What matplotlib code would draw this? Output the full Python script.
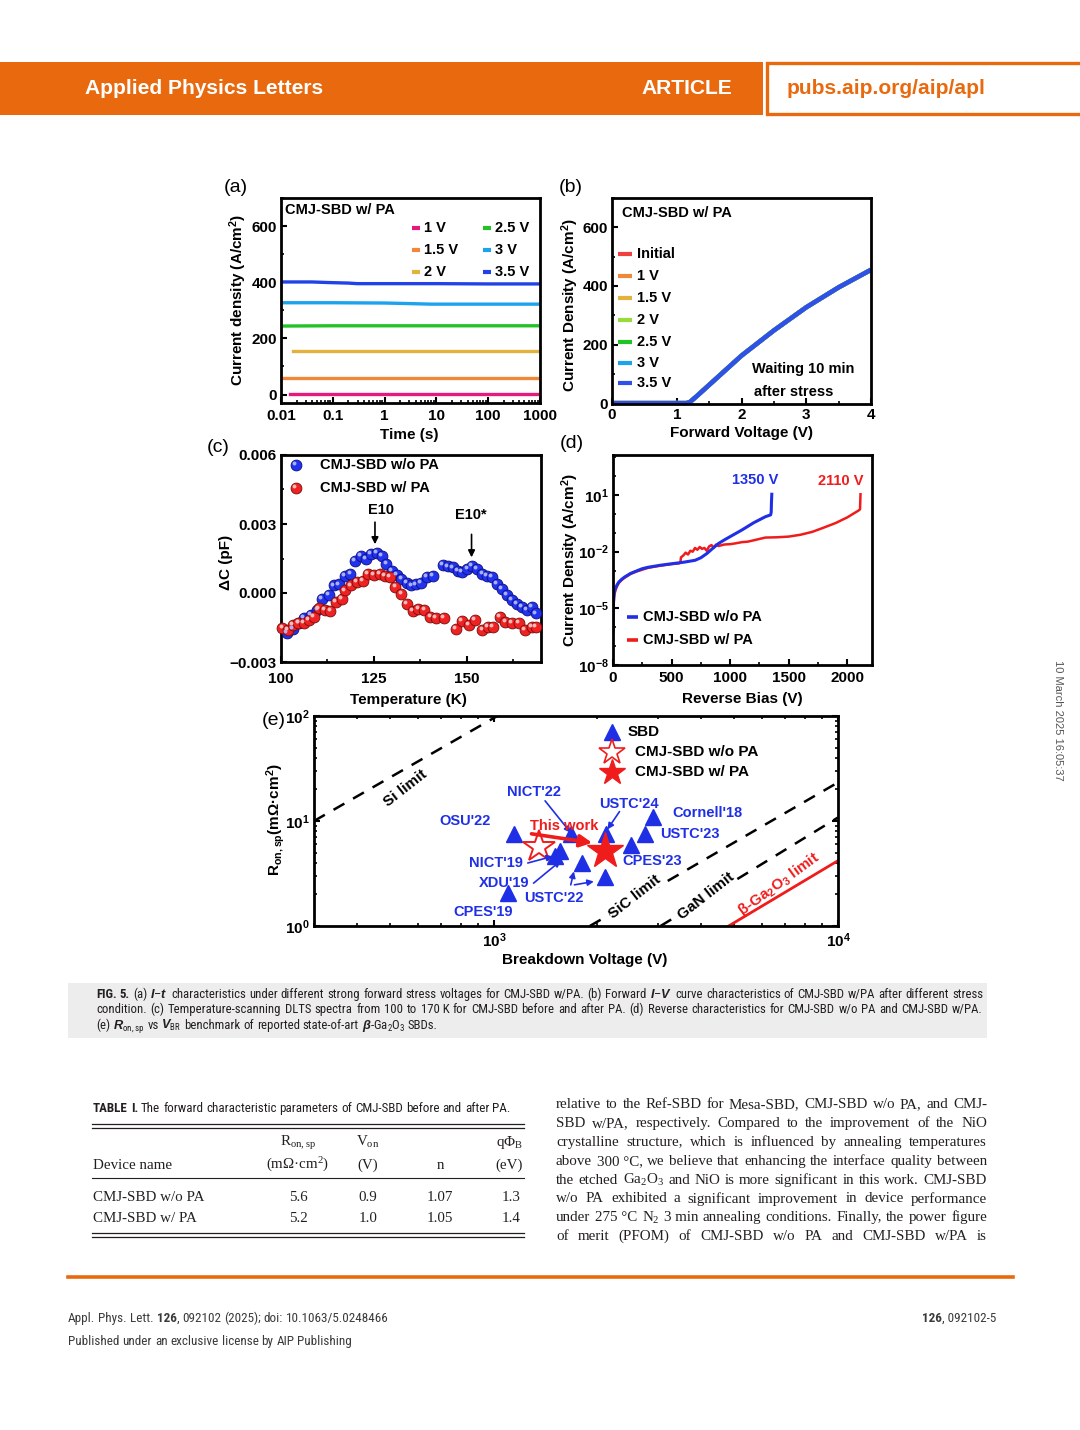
import numpy as np
import matplotlib
matplotlib.use('Agg')
import matplotlib.pyplot as plt
from matplotlib.patches import Rectangle
from matplotlib import font_manager
import matplotlib.transforms as mtransforms
from matplotlib.ticker import (FixedLocator, FixedFormatter, MultipleLocator,
                               NullFormatter, FuncFormatter, LogLocator)

# ------------------------------------------------------------------ data
# (a) I-t under forward stress, CMJ-SBD w/ PA
stress_names = ['1 V', '1.5 V', '2 V', '2.5 V', '3 V', '3.5 V']
t_1V = [0.015, 0.1, 1, 10, 100, 1000]
J_1V = [1, 1, 1, 1, 1, 1]
t_1p5V = [0.01, 0.1, 1, 10, 100, 1000]
J_1p5V = [59, 59, 59, 59, 59, 59]
t_2V = [0.017, 0.1, 1, 10, 100, 1000]
J_2V = [154, 154, 154, 154, 154, 154]
t_2p5V = [0.01, 0.1, 1, 10, 100, 1000]
J_2p5V = [244, 245, 245, 245, 245, 245]
t_3V = [0.01, 0.1, 1, 3, 8, 15, 100, 1000]
J_3V = [327, 327, 326, 324, 322, 322, 322, 322]
t_3p5V = [0.01, 0.04, 0.08, 0.2, 0.3, 1, 10, 100, 1000]
J_3p5V = [401, 401, 399, 397, 395, 395, 395, 394, 394]
a_xticks = [0.01, 0.1, 1, 10, 100, 1000]
a_xticklabels = ['0.01', '0.1', '1', '10', '100', '1000']

# (b) forward I-V after stress
fwd_names = ['Initial', '1 V', '1.5 V', '2 V', '2.5 V', '3 V', '3.5 V']
V_fwd = [0, 0.5, 1.0, 1.15, 1.2, 1.3, 1.5, 1.75, 2.0, 2.5, 3.0, 3.5, 4.0]
J_fwd = [0, 0, 0, 0, 3, 22, 62, 112, 162, 248, 327, 395, 455]

# (c) DLTS spectra
T_wo = [101.5, 103.1, 104.9, 106.2, 108.0, 109.8, 111.1, 112.9, 114.2, 115.5, 117.1, 118.7,
        120.0, 121.5, 122.9, 124.2, 125.8, 127.1, 128.4, 129.8, 131.1, 132.4, 133.8, 135.1,
        136.4, 137.7, 139.3, 140.9, 143.5, 144.9, 146.2, 147.7, 148.8, 150.2, 151.5, 152.8,
        154.2, 155.5, 156.8, 158.2, 159.5, 160.8, 162.2, 163.5, 164.8, 166.2, 167.5, 168.6]
C_wo = [-0.00174, -0.00156, -0.00131, -0.00110, -0.00096, -0.00074, -0.00024, -0.00010,
        0.00033, 0.00037, 0.00076, 0.00083, 0.00140, 0.00160, 0.00147, 0.00169, 0.00176,
        0.00160, 0.00126, 0.00097, 0.00079, 0.00061, 0.00044, 0.00033, 0.00037, 0.00044,
        0.00069, 0.00076, 0.00121, 0.00116, 0.00111, 0.00097, 0.00090, 0.00104, 0.00119,
        0.00104, 0.00083, 0.00076, 0.00069, 0.00040, 0.00019, -0.00010, -0.00031, -0.00046,
        -0.00060, -0.00074, -0.00060, -0.00089]
T_w = [100.4, 101.8, 103.1, 104.7, 106.2, 107.5, 108.9, 110.2, 111.8, 113.3, 114.7, 116.3,
       117.3, 118.9, 120.4, 122.0, 123.5, 125.0, 126.6, 128.0, 129.3, 130.8, 132.4, 134.0,
       135.5, 137.0, 138.6, 140.2, 141.7, 143.9, 147.0, 148.8, 150.6, 152.2, 154.2, 155.7,
       157.1, 158.9, 160.4, 162.2, 164.0, 165.7, 167.5, 168.6]
C_w = [-0.00153, -0.00160, -0.00139, -0.00131, -0.00131, -0.00117, -0.00103, -0.00067,
       -0.00074, -0.00079, -0.00039, -0.00024, 0.00011, 0.00033, 0.00050, 0.00054, 0.00083,
       0.00079, 0.00083, 0.00076, 0.00069, 0.00026, -0.00003, -0.00046, -0.00079, -0.00070,
       -0.00074, -0.00103, -0.00110, -0.00107, -0.00156, -0.00121, -0.00139, -0.00117,
       -0.00160, -0.00146, -0.00146, -0.00103, -0.00124, -0.00131, -0.00131, -0.00160,
       -0.00146, -0.00146]

# (d) reverse characteristics
V_rev_wo = [0, 1, 3, 6, 10, 20, 35, 50, 75, 100, 150, 200, 250, 300, 400, 500, 600, 700,
            750, 800, 850, 900, 950, 1000, 1100, 1200, 1300, 1345, 1350, 1352, 1355]
J_rev_wo = [6.3e-7, 2.5e-6, 1.26e-5, 3.2e-5, 6.3e-5, 1.12e-4, 1.78e-4, 2.5e-4, 3.5e-4,
            4.6e-4, 7.1e-4, 9.5e-4, 1.26e-3, 1.5e-3, 1.9e-3, 2.3e-3, 2.75e-3, 3.5e-3,
            4.8e-3, 7.9e-3, 1.48e-2, 2.7e-2, 4.2e-2, 6.3e-2, 0.141, 0.34, 0.71, 0.89,
            1.26, 4.0, 11.0]
V_rev_w = [0, 1, 3, 6, 10, 20, 35, 50, 75, 100, 150, 200, 300, 400, 500, 560, 575, 580,
           600, 620, 640, 660, 680, 700, 720, 740, 760, 780, 800, 820, 840, 860, 880, 900,
           950, 1000, 1050, 1100, 1150, 1200, 1300, 1400, 1500, 1600, 1700, 1800, 1900,
           2000, 2100, 2108, 2110, 2112]
J_rev_w = [5.0e-7, 1.6e-6, 7.9e-6, 2.0e-5, 4.5e-5, 8.9e-5, 1.5e-4, 2.2e-4, 3.2e-4, 4.2e-4,
           6.6e-4, 8.9e-4, 1.4e-3, 1.8e-3, 2.2e-3, 2.4e-3, 2.6e-3, 5.0e-3, 6.3e-3, 8.9e-3,
           7.1e-3, 1.12e-2, 1.0e-2, 1.58e-2, 1.26e-2, 1.78e-2, 1.41e-2, 1.58e-2, 1.12e-2,
           1.9e-2, 2.24e-2, 1.66e-2, 2.4e-2, 2.0e-2, 2.4e-2, 2.5e-2, 2.8e-2, 3.2e-2, 3.4e-2,
           4.0e-2, 5.6e-2, 5.8e-2, 6.3e-2, 7.9e-2, 0.112, 0.19, 0.33, 0.66, 1.58, 1.78,
           5.0, 11.0]
rev_names = ['CMJ-SBD w/o PA', 'CMJ-SBD w/ PA']
bv_labels = ['1350 V', '2110 V']
d_yticks = [1e-8, 1e-5, 1e-2, 1e1]
d_yticklabels = ['$10^{-8}$', '$10^{-5}$', '$10^{-2}$', '$10^{1}$']

# (e) benchmark
sbd_vbr = [1100, 1143, 1500, 1560, 1680, 1800, 2100, 2113, 2500, 2740, 2890]
sbd_ron = [2.05, 7.45, 4.6, 5.15, 7.6, 3.98, 2.96, 7.45, 5.97, 7.45, 10.8]
wo_vbr, wo_ron = [1350], [5.6]
w_vbr, w_ron = [2110], [5.2]
si_V, si_R = [300, 1050], [10.0, 105.0]
sic_V, sic_R = [1900, 10000], [1.0, 23.3]
gan_V, gan_R = [3050, 10000], [1.0, 10.8]
ga2o3_V, ga2o3_R = [4810, 10000], [1.0, 4.19]
bench_labels = ["NICT'22", "USTC'24", "Cornell'18", "OSU'22", "USTC'23", "NICT'19",
                "CPES'23", "XDU'19", "USTC'22", "CPES'19"]
limit_labels = ['Si limit', 'SiC limit', 'GaN limit', r'$\beta$-Ga$_2$O$_3$ limit']
e_legend = ['SBD', 'CMJ-SBD w/o PA', 'CMJ-SBD w/ PA']

# table
table_cols = ['Device name', 'R$_{on,sp}$', 'V$_{on}$', 'n', 'qΦ$_B$']
table_units = ['', '(mΩ·cm$^2$)', '(V)', '', '(eV)']
table_rows = ['CMJ-SBD w/o PA', 'CMJ-SBD w/ PA']
table_ron = ['5.6', '5.2']
table_von = ['0.9', '1.0']
table_n = ['1.07', '1.05']
table_phi = ['1.3', '1.4']

# ------------------------------------------------------------------ setup
W, H = 1080, 1430
ORANGE = '#E96A0E'
BLUE = '#1F2FE6'
RED = '#F01C1C'
TXT = '#231F20'

plt.rcParams.update({
    'font.family': ['Liberation Sans', 'DejaVu Sans'],
    'font.weight': 'bold',
    'mathtext.default': 'regular',
    'mathtext.fontset': 'custom',
    'mathtext.rm': 'Liberation Sans',
    'mathtext.it': 'Liberation Sans:italic',
    'mathtext.bf': 'Liberation Sans:bold',
    'axes.linewidth': 2.0,
    'axes.unicode_minus': True,
})
_names = {f.name for f in font_manager.fontManager.ttflist}
COND = 'Liberation Sans'
for _cand in ['Liberation Sans Narrow', 'Roboto Condensed', 'Open Sans Condensed',
              'DejaVu Sans Condensed']:
    if _cand in _names:
        COND = _cand
        break
SERIF = 'Liberation Serif'

fig = plt.figure(figsize=(W / 100, H / 100), dpi=100)
renderer = fig.canvas.get_renderer()


def P(x, y):
    return (x / W, 1 - y / H)


def rect(l, t, r, b):
    return [l / W, 1 - b / H, (r - l) / W, (b - t) / H]


def twidth(t):
    return t.get_window_extent(renderer=renderer).width


def make_tokens(tokens, base):
    items = []
    for tok in tokens:
        if isinstance(tok, str):
            s, extra = tok, {}
        else:
            s, extra = tok
        props = dict(base)
        glue = extra.get('glue', False)
        props.update({k: v for k, v in extra.items() if k != 'glue'})
        t = fig.text(0, 0, s, ha='left', va='baseline', **props)
        items.append((t, glue))
    return items


def space_width(base):
    a = fig.text(0, 0, 'n n', **base)
    b = fig.text(0, 0, 'nn', **base)
    w = twidth(a) - twidth(b)
    a.remove(); b.remove()
    return w


def natural_width(tokens, base):
    items = make_tokens(tokens, base)
    sp = space_width(base)
    w = sum(twidth(t) for t, _ in items)
    w += sp * sum(1 for i, (t, g) in enumerate(items) if i > 0 and not g)
    for t, _ in items:
        t.remove()
    return w


def place_line(tokens, x0, y, base, x1=None):
    items = make_tokens(tokens, base)
    widths = [twidth(t) for t, _ in items]
    gaps = [i for i, (t, g) in enumerate(items) if i > 0 and not g]
    sp = space_width(base)
    if x1 is not None and gaps:
        sp = (x1 - x0 - sum(widths)) / len(gaps)
    x = x0
    for i, ((t, g), w) in enumerate(zip(items, widths)):
        if i > 0 and not g:
            x += sp
        t.set_position(P(x, y))
        x += w
    return items


def fit_size(s, target, props, s0=10.0):
    t = fig.text(0, 0, s, fontsize=s0, **props)
    w = twidth(t)
    t.remove()
    return s0 * target / w


def style(ax, top=False, right=False, xpad=3):
    ax.tick_params(which='both', direction='in', top=top, right=right,
                   labelsize=11, width=1.5, pad=3)
    ax.tick_params(axis='x', which='both', pad=xpad)
    ax.tick_params(which='major', length=4.5)
    ax.tick_params(which='minor', length=2.5, width=1.2)


def ftext(x, y, s, **kw):
    return fig.text(*P(x, y), s, **kw)


# ------------------------------------------------------------------ (a)
axA = fig.add_axes(rect(281, 198, 540, 403))
a_colors = ['#E8197D', '#F0883A', '#E2B13E', '#23C327', '#1CA3EC', '#2142E6']
a_series = [(t_1V, J_1V), (t_1p5V, J_1p5V), (t_2V, J_2V), (t_2p5V, J_2p5V),
            (t_3V, J_3V), (t_3p5V, J_3p5V)]
for (t, J), c in zip(a_series, a_colors):
    axA.plot(t, J, color=c, lw=2.4)
axA.set_xscale('log')
axA.xaxis.set_major_locator(FixedLocator(a_xticks))
axA.xaxis.set_major_formatter(FixedFormatter(a_xticklabels))
axA.xaxis.set_minor_locator(LogLocator(base=10, subs=np.arange(2, 10), numticks=20))
axA.xaxis.set_minor_formatter(NullFormatter())
axA.yaxis.set_major_locator(FixedLocator([0, 200, 400, 600]))
axA.yaxis.set_minor_locator(MultipleLocator(100))
style(axA, xpad=4)
leg_a_pos = [(0.506, 0.854), (0.506, 0.746), (0.506, 0.639),
             (0.780, 0.854), (0.780, 0.746), (0.780, 0.639)]
for name, c, (x, y) in zip(stress_names, a_colors, leg_a_pos):
    axA.plot([x, x + 0.032], [y, y], transform=axA.transAxes, color=c, lw=3,
             solid_capstyle='butt')
    axA.text(x + 0.046, y, name, transform=axA.transAxes, va='center', ha='left',
             fontsize=10.5)
axA.text(0.015, 0.94, 'CMJ-SBD w/ PA', transform=axA.transAxes, va='center',
         ha='left', fontsize=10.5)
axA.set_xlim(0.01, 1000)
axA.set_ylim(-30, 700)

# ------------------------------------------------------------------ (b)
axB = fig.add_axes(rect(612, 198, 871, 404))
b_colors = ['#F04040', '#F0883A', '#E2B13E', '#9ADB3C', '#23C327', '#1CA3EC', '#3050E8']
for name, c in zip(fwd_names, b_colors):
    axB.plot(V_fwd, J_fwd, color=c, lw=3.2, solid_capstyle='butt')
axB.xaxis.set_major_locator(FixedLocator([0, 1, 2, 3, 4]))
axB.xaxis.set_minor_locator(MultipleLocator(0.5))
axB.yaxis.set_major_locator(FixedLocator([0, 200, 400, 600]))
axB.yaxis.set_minor_locator(MultipleLocator(100))
style(axB)
leg_b_rows = [0.728, 0.621, 0.515, 0.408, 0.301, 0.199, 0.102]
for name, c, y in zip(fwd_names, b_colors, leg_b_rows):
    axB.plot([0.023, 0.077], [y, y], transform=axB.transAxes, color=c, lw=3,
             solid_capstyle='butt')
    axB.text(0.097, y, name, transform=axB.transAxes, va='center', ha='left',
             fontsize=10.5)
axB.text(0.04, 0.927, 'CMJ-SBD w/ PA', transform=axB.transAxes, va='center',
         ha='left', fontsize=10.5)
axB.text(0.737, 0.17, 'Waiting 10 min', transform=axB.transAxes, va='center',
         ha='center', fontsize=10.5)
axB.text(0.70, 0.058, 'after stress', transform=axB.transAxes, va='center',
         ha='center', fontsize=10.5)
axB.set_xlim(0, 4)
axB.set_ylim(-3, 700)

# ------------------------------------------------------------------ (c)
axC = fig.add_axes(rect(281, 455, 541, 662))


def balls(ax, x, y, face, edge, hi, transform=None):
    tr = transform if transform is not None else ax.transData
    ax.plot(x, y, 'o', ms=7.8, mfc=face, mec=edge, mew=0.6, ls='none', zorder=3,
            transform=tr, clip_on=False)
    off = mtransforms.offset_copy(tr, fig=fig, x=-1.3, y=1.3, units='points')
    ax.plot(x, y, 'o', ms=2.8, mfc=hi, mec='none', ls='none', zorder=4,
            transform=off, clip_on=False)


balls(axC, T_wo, C_wo, '#2233EE', '#0C0C80', '#A8B0FF')
balls(axC, T_w, C_w, '#EE2222', '#7A0A0A', '#FFB8B8')
balls(axC, [0.057], [0.952], '#2233EE', '#0C0C80', '#A8B0FF', transform=axC.transAxes)
balls(axC, [0.057], [0.840], '#EE2222', '#7A0A0A', '#FFB8B8', transform=axC.transAxes)
axC.text(0.15, 0.952, 'CMJ-SBD w/o PA', transform=axC.transAxes, va='center', fontsize=10.5)
axC.text(0.15, 0.840, 'CMJ-SBD w/ PA', transform=axC.transAxes, va='center', fontsize=10.5)
axC.text(127.0, 0.0036, 'E10', ha='center', va='center', fontsize=10.5)
axC.annotate('', xy=(125.3, 0.00200), xytext=(125.3, 0.00320),
             arrowprops=dict(arrowstyle='-|>', color='black', lw=1.2, mutation_scale=10))
axC.text(151.2, 0.0034, 'E10*', ha='center', va='center', fontsize=10.5)
axC.annotate('', xy=(151.3, 0.00143), xytext=(151.3, 0.00267),
             arrowprops=dict(arrowstyle='-|>', color='black', lw=1.2, mutation_scale=10))
axC.xaxis.set_major_locator(FixedLocator([100, 125, 150]))
axC.xaxis.set_minor_locator(MultipleLocator(12.5))
axC.yaxis.set_major_locator(FixedLocator([-0.003, 0.0, 0.003, 0.006]))
axC.yaxis.set_minor_locator(MultipleLocator(0.0015))
axC.yaxis.set_major_formatter(FuncFormatter(lambda v, p: f'{v:.3f}'.replace('-', '\u2212')))
style(axC, xpad=7)
axC.set_xlim(100, 170)
axC.set_ylim(-0.003, 0.006)

# ------------------------------------------------------------------ (d)
axD = fig.add_axes(rect(613, 455, 872, 665))
axD.plot(V_rev_w, J_rev_w, color=RED, lw=1.8)
axD.plot(V_rev_wo, J_rev_wo, color=BLUE, lw=2.2)
axD.set_yscale('log')
axD.yaxis.set_major_locator(FixedLocator(d_yticks))
axD.yaxis.set_major_formatter(FixedFormatter(d_yticklabels))
axD.yaxis.set_minor_locator(FixedLocator([10.0 ** k for k in range(-8, 4)]))
axD.yaxis.set_minor_formatter(NullFormatter())
axD.xaxis.set_major_locator(FixedLocator([0, 500, 1000, 1500, 2000]))
axD.xaxis.set_minor_locator(MultipleLocator(250))
style(axD, xpad=4)
axD.text(1210, 10 ** 1.8, bv_labels[0], color=BLUE, ha='center', va='center', fontsize=10.5)
axD.text(1940, 10 ** 1.75, bv_labels[1], color=RED, ha='center', va='center', fontsize=10.5)
for name, c, y in zip(rev_names, [BLUE, RED], [0.229, 0.119]):
    axD.plot([0.054, 0.097], [y, y], transform=axD.transAxes, color=c, lw=2.6,
             solid_capstyle='butt')
    axD.text(0.116, y, name, transform=axD.transAxes, va='center', ha='left', fontsize=10.5)
axD.set_xlim(0, 2210)
axD.set_ylim(1e-8, 10 ** 3.12)

# ------------------------------------------------------------------ (e)
axE = fig.add_axes(rect(314, 716, 838, 926))
axE.set_xscale('log'); axE.set_yscale('log')
dash = dict(color='black', lw=1.8, ls=(0, (5, 4)))
axE.plot(si_V, si_R, **dash)
axE.plot(sic_V, sic_R, **dash)
axE.plot(gan_V, gan_R, **dash)
axE.plot(ga2o3_V, ga2o3_R, color=RED, lw=2.0)
axE.plot(sbd_vbr, sbd_ron, '^', ms=11, color=BLUE, ls='none', zorder=3)
axE.plot(wo_vbr, wo_ron, '*', ms=24, mfc='white', mec=RED, mew=1.4, ls='none', zorder=4)
axE.plot(w_vbr, w_ron, '*', ms=27, color=RED, ls='none', zorder=4)

lim_pos = [(0.175, 0.655, 'black', 38, False), (0.613, 0.140, 'black', 38, True),
           (0.748, 0.140, 'black', 38, True), (0.888, 0.200, RED, 36, False)]
for s, (x, y, c, rot, bg) in zip(limit_labels, lim_pos):
    kw = {}
    if bg:
        kw['bbox'] = dict(facecolor='white', edgecolor='none', pad=0.3)
    axE.text(x, y, s, transform=axE.transAxes, rotation=rot, ha='center', va='center',
             color=c, fontsize=11, zorder=5, **kw)

lab_pos = [(0.419, 0.636), (0.601, 0.580), (0.750, 0.540), (0.288, 0.500), (0.717, 0.436),
           (0.348, 0.300), (0.646, 0.308), (0.363, 0.204), (0.458, 0.131), (0.322, 0.067)]
for s, (x, y) in zip(bench_labels, lab_pos):
    axE.text(x, y, s, transform=axE.transAxes, ha='center', va='center', color=BLUE,
             fontsize=10.5, zorder=6)
axE.text(0.478, 0.476, 'This work', transform=axE.transAxes, ha='center', va='center',
         color=RED, fontsize=10.5, zorder=7)

blue_arrows = [((0.441, 0.596), (0.490, 0.444)), ((0.583, 0.545), (0.560, 0.460)),
               ((0.408, 0.300), (0.456, 0.332)), ((0.419, 0.204), (0.471, 0.311)),
               ((0.490, 0.196), (0.496, 0.260)), ((0.497, 0.196), (0.534, 0.212))]
for tail, tip in blue_arrows:
    axE.annotate('', xy=tip, xytext=tail, xycoords='axes fraction',
                 textcoords='axes fraction',
                 arrowprops=dict(arrowstyle='-|>', color=BLUE, lw=1.2, mutation_scale=9,
                                 shrinkA=0, shrinkB=0), zorder=6)
axE.annotate('', xy=(0.531, 0.396), xytext=(0.415, 0.439), xycoords='axes fraction',
             textcoords='axes fraction',
             arrowprops=dict(arrowstyle='-|>', color=RED, lw=2.6, mutation_scale=18,
                             shrinkA=0, shrinkB=0), zorder=6)

# legend of (e)
axE.plot([0.568], [0.925], '^', ms=11, color=BLUE, transform=axE.transAxes, clip_on=False)
axE.plot([0.568], [0.829], '*', ms=19, mfc='white', mec=RED, mew=1.2,
         transform=axE.transAxes, clip_on=False)
axE.plot([0.568], [0.732], '*', ms=19, color=RED, transform=axE.transAxes, clip_on=False)
for s, x, y in zip(e_legend, [0.598, 0.612, 0.612], [0.925, 0.829, 0.732]):
    axE.text(x, y, s, transform=axE.transAxes, ha='left', va='center', fontsize=11)

axE.xaxis.set_major_locator(FixedLocator([1e3, 1e4]))
axE.xaxis.set_major_formatter(FixedFormatter(['$10^{3}$', '$10^{4}$']))
axE.xaxis.set_minor_locator(LogLocator(base=10, subs=np.arange(2, 10), numticks=20))
axE.xaxis.set_minor_formatter(NullFormatter())
axE.yaxis.set_major_locator(FixedLocator([1, 10, 100]))
axE.yaxis.set_major_formatter(FixedFormatter(['$10^{0}$', '$10^{1}$', '$10^{2}$']))
axE.yaxis.set_minor_locator(LogLocator(base=10, subs=np.arange(2, 10), numticks=20))
axE.yaxis.set_minor_formatter(NullFormatter())
style(axE, top=True, right=True, xpad=4)
axE.set_xlim(300, 10000)
axE.set_ylim(1, 100)

# ------------------------------------------------------------------ axis labels / panel tags
lab = dict(fontsize=11, fontweight='bold')
ftext(238, 300, 'Current density (A/cm$^2$)', rotation=90, ha='center', va='center', **lab)
ftext(570, 305, 'Current Density (A/cm$^2$)', rotation=90, ha='center', va='center', **lab)
ftext(226, 562, 'ΔC (pF)', rotation=90, ha='center', va='center', **lab)
ftext(570, 560, 'Current Density (A/cm$^2$)', rotation=90, ha='center', va='center', **lab)
ftext(276, 820, 'R$_{on,sp}$(mΩ·cm$^2$)', rotation=90, ha='center', va='center', **lab)
ftext(409, 435, 'Time (s)', ha='center', va='center', **lab)
ftext(742, 433, 'Forward Voltage (V)', ha='center', va='center', **lab)
ftext(408, 700, 'Temperature (K)', ha='center', va='center', **lab)
ftext(742, 699, 'Reverse Bias (V)', ha='center', va='center', **lab)
ftext(585, 960, 'Breakdown Voltage (V)', ha='center', va='center', **lab)
tag = dict(fontsize=14, fontweight='normal', ha='center', va='center')
ftext(236, 188, '(a)', **tag)
ftext(571, 188, '(b)', **tag)
ftext(218, 447, '(c)', **tag)
ftext(572, 444, '(d)', **tag)
ftext(274, 720, '(e)', **tag)

# ------------------------------------------------------------------ header
fig.add_artist(Rectangle(P(0, 115), 763 / W, 53 / H, transform=fig.transFigure,
                         facecolor=ORANGE, edgecolor='none'))
fig.add_artist(Rectangle(P(767, 114), 330 / W, 51 / H, transform=fig.transFigure,
                         facecolor='white', edgecolor=ORANGE, lw=2.4))
hp = dict(fontfamily=['Liberation Sans', 'DejaVu Sans'], fontweight='bold')
sz = fit_size('Applied Physics Letters', 239, hp)
ftext(85, 88, 'Applied Physics Letters', color='white', fontsize=sz, ha='left', va='center', **hp)
ftext(687, 88, 'ARTICLE', color='white', fontsize=sz, ha='center', va='center', **hp)
ftext(787, 88, 'pubs.aip.org/aip/apl', color=ORANGE, fontsize=sz, ha='left', va='center', **hp)

# ------------------------------------------------------------------ caption
fig.add_artist(Rectangle(P(68, 1038), (987 - 68) / W, 55 / H, transform=fig.transFigure,
                         facecolor='#EDEDED', edgecolor='none', zorder=0))
cap_base = dict(fontfamily=[COND, 'DejaVu Sans'], fontweight='normal', color=TXT)
bold = {'fontweight': 'bold'}
cap1 = ([('FIG.', bold), ('5.', bold)] +
        r"(a) $\mathit{I}$–$\mathit{t}$ characteristics under different strong forward stress voltages for CMJ-SBD w/PA. (b) Forward $\mathit{I}$–$\mathit{V}$ curve characteristics of CMJ-SBD w/PA after different stress".split(' '))
cap2 = "condition. (c) Temperature-scanning DLTS spectra from 100 to 170\u00a0K for CMJ-SBD before and after PA. (d) Reverse characteristics for CMJ-SBD w/o PA and CMJ-SBD w/PA.".split(' ')
cap3 = r"(e) $\mathit{R}_{on,sp}$ vs $\mathit{V}_{BR}$ benchmark of reported state-of-art $\mathit{\beta}$-Ga$_2$O$_3$ SBDs.".split(' ')
b10 = dict(cap_base, fontsize=10)
cap_size = min(10 * (471 - 96) / natural_width(cap3, b10),
               10 * (983 - 96) * 0.985 / natural_width(cap1, b10),
               10 * (983 - 96) * 0.985 / natural_width(cap2, b10))
cap_base['fontsize'] = cap_size
place_line(cap1, 96, 998, cap_base, x1=983)
place_line(cap2, 96, 1013, cap_base, x1=983)
place_line(cap3, 96, 1029, cap_base)

# ------------------------------------------------------------------ table
tab_title = [('TABLE', bold), ('I.', bold)] + "The forward characteristic parameters of CMJ-SBD before and after PA.".split(' ')
tt_base = dict(cap_base)
tt_base['fontsize'] = 10 * (508 - 93) / natural_width(tab_title, b10)
place_line(tab_title, 93, 1112, tt_base)

body_lines = [
    "relative to the Ref-SBD for Mesa-SBD, CMJ-SBD w/o PA, and CMJ-",
    "SBD w/PA, respectively. Compared to the improvement of the NiO",
    "crystalline structure, which is influenced by annealing temperatures",
    "above 300\u00a0°C, we believe that enhancing the interface quality between",
    "the etched Ga$_2$O$_3$ and NiO is more significant in this work. CMJ-SBD",
    "w/o PA exhibited a significant improvement in device performance",
    "under 275\u00a0°C N$_2$ 3\u00a0min annealing conditions. Finally, the power figure",
    "of merit (PFOM) of CMJ-SBD w/o PA and CMJ-SBD w/PA is",
]
serif_base = dict(fontfamily=[SERIF, 'DejaVu Serif'], fontweight='normal', color=TXT)
widest = max(natural_width(l.split(' '), dict(serif_base, fontsize=10)) for l in body_lines)
body_size = min(10.8, 10 * 425 / widest)
serif_base['fontsize'] = body_size
for i, l in enumerate(body_lines):
    place_line(l.split(' '), 556, 1108 + i * 18.9, serif_base, x1=987)


def hline(y, x0=92, x1=524, lw=0.9):
    fig.add_artist(plt.Line2D([x0 / W, x1 / W], [1 - y / H, 1 - y / H],
                              transform=fig.transFigure, color=TXT, lw=lw))


hline(1124); hline(1128); hline(1178, lw=0.8); hline(1233); hline(1237)
tp = dict(serif_base)
col_x = [93, 298, 368, 440, 523]
col_ha = ['left', 'center', 'center', 'center', 'right']
for s, u, x, ha in zip(table_cols, table_units, col_x, col_ha):
    if s in ('Device name', 'n'):
        ftext(x, 1169, s, ha=ha, va='baseline', **tp)
    else:
        ftext(x, 1146, s, ha=ha, va='baseline', **tp)
    if u:
        ftext(x, 1169, u, ha=ha, va='baseline', **tp)
for i, (name, r, v, n, q) in enumerate(zip(table_rows, table_ron, table_von, table_n, table_phi)):
    y = 1201 + i * 21
    ftext(93, y, name, ha='left', va='baseline', **tp)
    ftext(298, y, r, ha='center', va='baseline', **tp)
    ftext(368, y, v, ha='center', va='baseline', **tp)
    ftext(440, y, n, ha='center', va='baseline', **tp)
    ftext(521, y, q, ha='right', va='baseline', **tp)

# ------------------------------------------------------------------ footer
fig.add_artist(plt.Line2D([68 / W, 1013 / W], [1 - 1277 / H, 1 - 1277 / H],
                          transform=fig.transFigure, color=ORANGE, lw=2.6))
foot_base = dict(fontfamily=[COND, 'DejaVu Sans'], fontweight='normal', color='#3A3A3A')
pub = "Published under an exclusive license by AIP Publishing".split(' ')
fs = 10 * 281 / natural_width(pub, dict(foot_base, fontsize=10))
foot_base['fontsize'] = fs
place_line(["Appl.", "Phys.", "Lett.", ("126", bold), (",", {'glue': True}), "092102",
            "(2025);", "doi:", "10.1063/5.0248466"], 68, 1322, foot_base)
place_line(pub, 68, 1345, foot_base)
t_r = fig.text(0, 0, ', 092102-5', ha='left', va='baseline', **foot_base)
w_r = twidth(t_r); t_r.remove()
t_b = fig.text(0, 0, '126', ha='left', va='baseline', fontweight='bold',
               **{k: v for k, v in foot_base.items() if k != 'fontweight'})
w_b = twidth(t_b); t_b.remove()
place_line([("126", bold), (", 092102-5", {'glue': True})], 996 - w_r - w_b, 1322, foot_base)

ftext(1058, 720, '10 March 2025 16:05:37', rotation=270, ha='center', va='center',
      fontsize=8, fontweight='normal', color='#555555')

fig.savefig('out.png', dpi=100)
